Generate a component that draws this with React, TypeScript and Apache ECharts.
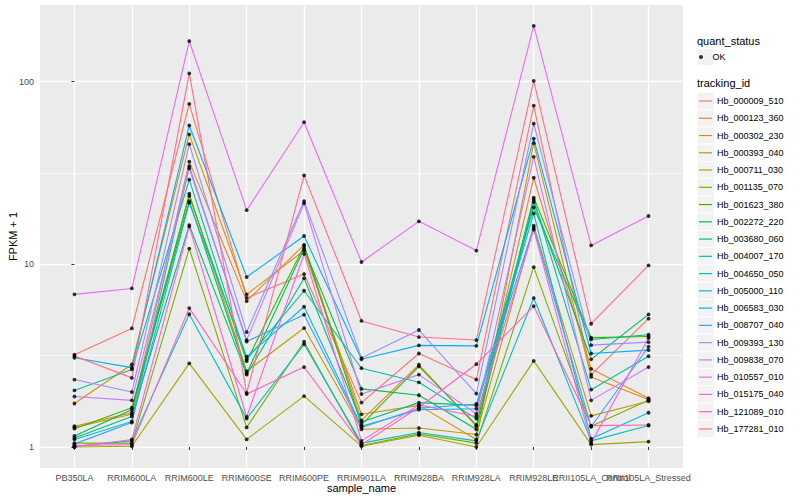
import React, { useEffect, useRef } from "react";
import * as echarts from "echarts";

const sampleNames = [
  "PB350LA",
  "RRIM600LA",
  "RRIM600LE",
  "RRIM600SE",
  "RRIM600PE",
  "RRIM901LA",
  "RRIM928BA",
  "RRIM928LA",
  "RRIM928LE",
  "RRII105LA_Control",
  "RRII105LA_Stressed",
];

const trackingIds = [
  "Hb_000009_510",
  "Hb_000123_360",
  "Hb_000302_230",
  "Hb_000393_040",
  "Hb_000711_030",
  "Hb_001135_070",
  "Hb_001623_380",
  "Hb_002272_220",
  "Hb_003680_060",
  "Hb_004007_170",
  "Hb_004650_050",
  "Hb_005000_110",
  "Hb_006583_030",
  "Hb_008707_040",
  "Hb_009393_130",
  "Hb_009838_070",
  "Hb_010557_010",
  "Hb_015175_040",
  "Hb_121089_010",
  "Hb_177281_010",
];

const trackColors = [
  "#F8766D", "#EA8331", "#D89000", "#C09B00", "#A3A500",
  "#7CAE00", "#39B600", "#00BB4E", "#00BF7D", "#00C1A3",
  "#00BFC4", "#00BAE0", "#00B0F6", "#35A2FF", "#9590FF",
  "#C77CFF", "#E76BF3", "#FA62DB", "#FF62BC", "#FF6C91",
];

// FPKM + 1 per sample, one array per tracking_id
const hb000009_510 = [3.2, 4.46, 75.6, 6.55, 8.85, 1.75, 3.25, 2.34, 74, 2.49, 5.04];
const hb000123_360 = [1.3, 1.54, 36.5, 6.29, 12.8, 1.4, 2.82, 1.3, 29.8, 2.68, 1.85];
const hb000302_230 = [1.73, 2.83, 51.5, 6.84, 11.9, 1.51, 1.69, 1.1, 46.1, 2.42, 1.82];
const hb000393_040 = [1.28, 1.51, 24.4, 2.6, 4.48, 1.25, 1.27, 1.17, 16.3, 1.48, 1.78];
const hb000711_030 = [1.0, 1.01, 2.87, 1.1, 1.9, 1.01, 1.16, 1.0, 2.96, 1.03, 1.07];
const hb001135_070 = [1.05, 1.05, 12.2, 1.28, 3.77, 1.02, 1.18, 1.05, 9.65, 1.3, 1.8];
const hb001623_380 = [1.26, 1.64, 23.7, 2.95, 12.6, 1.32, 2.76, 1.32, 23.2, 3.97, 4.03];
const hb002272_220 = [1.15, 1.6, 22.2, 2.53, 12.2, 2.08, 1.92, 1.25, 21.9, 3.02, 5.32];
const hb003680_060 = [1.12, 1.47, 16.4, 2.49, 8.4, 1.37, 1.75, 1.69, 20.5, 3.88, 4.12];
const hb004007_170 = [2.04, 2.66, 29.1, 3.02, 7.17, 2.7, 2.26, 1.43, 22.6, 2.06, 3.14];
const hb004650_050 = [1.01, 1.08, 5.33, 1.43, 3.65, 1.05, 1.2, 1.08, 6.54, 1.08, 1.31];
const hb005000_110 = [1.1, 1.38, 21.7, 3.12, 5.86, 1.3, 1.6, 1.62, 19.0, 1.11, 1.54];
const hb006583_030 = [3.08, 2.72, 57.6, 8.52, 14.3, 3.02, 3.6, 3.58, 48.8, 3.25, 3.39];
const hb008707_040 = [1.04, 1.36, 34.5, 3.78, 5.3, 1.28, 1.63, 1.72, 15.9, 1.29, 3.54];
const hb009393_130 = [2.34, 2.0, 45.5, 4.26, 22.2, 3.07, 4.37, 1.96, 58.9, 3.61, 3.75];
const hb009838_070 = [1.89, 1.8, 33.5, 3.85, 21.6, 1.95, 2.49, 1.52, 38.8, 1.8, 2.74];
const hb010557_010 = [6.85, 7.38, 167, 19.8, 60, 10.3, 17.2, 11.9, 202, 12.7, 18.4];
const hb015175_040 = [1.0, 1.1, 16.1, 1.46, 11.4, 1.08, 1.7, 1.47, 15.5, 1.05, 3.95];
const hb121089_010 = [1.02, 1.03, 5.76, 1.95, 2.74, 1.03, 1.65, 2.84, 5.9, 1.31, 1.32];
const hb177281_010 = [3.15, 2.39, 111, 1.98, 30.7, 4.9, 4.0, 3.85, 101, 4.73, 9.87];

const trackValues = [
  hb000009_510, hb000123_360, hb000302_230, hb000393_040, hb000711_030,
  hb001135_070, hb001623_380, hb002272_220, hb003680_060, hb004007_170,
  hb004650_050, hb005000_110, hb006583_030, hb008707_040, hb009393_130,
  hb009838_070, hb010557_010, hb015175_040, hb121089_010, hb177281_010,
];

const yTickValues = [1, 10, 100];
const yMinorValues = [Math.sqrt(10), Math.sqrt(1000)];
const quantStatus = "OK";

const FONT = "'Liberation Sans', Arial, Helvetica, sans-serif";
const ROW = 17.26;
const LEG_X = 699;
const OK_CY = 57;
const TRACK_CY0 = 101;

export default function App() {
  const ref = useRef<HTMLDivElement>(null);

  useEffect(() => {
    if (!ref.current) return;
    const chart = echarts.init(ref.current, null, { renderer: "svg" });

    const xIdx = sampleNames.map((_, i) => i);
    // labels are split over two axes so that the overlapping ones are all drawn
    const xIdxA = xIdx.filter((i) => i % 2 === 0);
    const xIdxB = xIdx.filter((i) => i % 2 === 1);
    const yLog = yTickValues.map((v) => Math.log10(v));

    const lineSeries = trackingIds.map((id, k) => ({
      type: "line",
      name: id,
      data: trackValues[k].map((v, i) => [i, Math.log10(v)]),
      symbol: "none",
      silent: true,
      z: 3,
      lineStyle: { width: 1.1, color: trackColors[k] },
      itemStyle: { color: trackColors[k] },
      emphasis: { disabled: true },
    }));

    const pointData: number[][] = [];
    trackValues.forEach((arr) => arr.forEach((v, i) => pointData.push([i, Math.log10(v)])));

    const pointSeries = {
      type: "scatter",
      name: quantStatus,
      data: pointData,
      symbol: "circle",
      symbolSize: 3.8,
      silent: true,
      z: 4,
      itemStyle: { color: "#000000" },
      emphasis: { disabled: true },
    };

    const gridSeries = {
      type: "line",
      name: "__grid",
      data: [],
      z: 1,
      silent: true,
      markLine: {
        z: 1,
        silent: true,
        symbol: "none",
        animation: false,
        label: { show: false },
        emphasis: { disabled: true },
        lineStyle: { color: "#FFFFFF", width: 0.7, type: "solid" },
        data: yMinorValues.map((v) => ({ yAxis: Math.log10(v) })),
      },
    };

    const keyRects: any[] = [];
    keyRects.push({
      type: "rect",
      shape: { x: 697, y: OK_CY - ROW / 2, width: ROW, height: ROW },
      style: { fill: "#F2F2F2", stroke: "#FFFFFF", lineWidth: 0.8 },
    });
    trackingIds.forEach((_, i) => {
      keyRects.push({
        type: "rect",
        shape: { x: 697, y: TRACK_CY0 + i * ROW - ROW / 2, width: ROW, height: ROW },
        style: { fill: "#F2F2F2", stroke: "#FFFFFF", lineWidth: 0.8 },
      });
    });

    const legendText = { fontSize: 9, color: "#000000", fontFamily: FONT, lineHeight: ROW };

    const xLabelBase = {
      formatter: (v: number) => sampleNames[Math.round(v)] ?? "",
      fontSize: 9,
      color: "#4D4D4D",
      fontFamily: FONT,
      margin: 5,
      showMinLabel: true,
      showMaxLabel: true,
      hideOverlap: false,
    };

    chart.setOption({
      animation: false,
      backgroundColor: "#FFFFFF",
      color: trackColors,
      grid: {
        left: 40,
        right: 117,
        top: 5,
        bottom: 32,
        show: true,
        backgroundColor: "#EBEBEB",
        borderWidth: 0,
        containLabel: false,
        outerBoundsMode: "none",
      },
      xAxis: [
        {
          type: "value",
          min: -0.6,
          max: 10.6,
          position: "bottom",
          axisLine: { show: false },
          axisTick: {
            show: true,
            length: 3,
            lineStyle: { color: "#333333", width: 1 },
            customValues: xIdx,
          },
          axisLabel: { ...xLabelBase, customValues: xIdxA },
          splitLine: { show: true, lineStyle: { color: "#FFFFFF", width: 1.4 } },
          name: "sample_name",
          nameLocation: "middle",
          nameGap: 14,
          nameMoveOverlap: false,
          nameTextStyle: { fontSize: 11, color: "#000000", fontFamily: FONT },
        },
        {
          type: "value",
          min: -0.6,
          max: 10.6,
          position: "bottom",
          offset: 0,
          axisLine: { show: false },
          axisTick: { show: false },
          axisLabel: { ...xLabelBase, customValues: xIdxB },
          splitLine: { show: false },
        },
      ],
      yAxis: {
        type: "value",
        min: -0.115,
        max: 2.42,
        axisLine: { show: false },
        axisTick: {
          show: true,
          length: 3,
          lineStyle: { color: "#333333", width: 1 },
          customValues: yLog,
        },
        axisLabel: {
          customValues: yLog,
          formatter: (v: number) => String(Math.round(Math.pow(10, v))),
          fontSize: 9,
          color: "#4D4D4D",
          fontFamily: FONT,
          margin: 6,
          showMinLabel: true,
          showMaxLabel: true,
        },
        splitLine: { show: true, lineStyle: { color: "#FFFFFF", width: 1.4 } },
        name: "FPKM + 1",
        nameLocation: "middle",
        nameGap: 22,
        nameMoveOverlap: false,
        nameRotate: 90,
        nameTextStyle: { fontSize: 11, color: "#000000", fontFamily: FONT },
      },
      legend: [
        {
          data: [{ name: quantStatus, icon: "circle" }],
          orient: "vertical",
          left: LEG_X,
          top: OK_CY - ROW / 2,
          itemWidth: 13,
          itemHeight: 4,
          itemGap: 0,
          padding: 0,
          selectedMode: false,
          textStyle: legendText,
        },
        {
          data: trackingIds.map((n) => ({ name: n, icon: "rect" })),
          orient: "vertical",
          left: LEG_X,
          top: TRACK_CY0 - ROW / 2,
          itemWidth: 13,
          itemHeight: 1.2,
          itemGap: 0,
          padding: 0,
          selectedMode: false,
          itemStyle: { borderWidth: 0 },
          textStyle: legendText,
        },
      ],
      graphic: [
        ...keyRects,
        {
          type: "text",
          x: 697,
          y: 41,
          style: { text: "quant_status", fontSize: 11, fill: "#000000", fontFamily: FONT, verticalAlign: "middle" },
        },
        {
          type: "text",
          x: 697,
          y: 83,
          style: { text: "tracking_id", fontSize: 11, fill: "#000000", fontFamily: FONT, verticalAlign: "middle" },
        },
      ],
      series: [gridSeries, ...lineSeries, pointSeries],
    });

    return () => chart.dispose();
  }, []);

  return (
    <div
      ref={ref}
      style={{ position: "fixed", left: 0, top: 0, width: 800, height: 500 }}
    />
  );
}
